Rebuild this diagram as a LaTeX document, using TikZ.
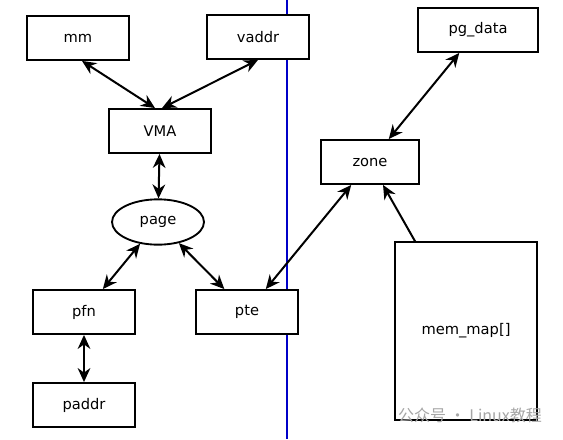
\documentclass[tikz,border=0pt]{standalone}
\usepackage{fontspec}
\setmainfont{DejaVu Sans}
\newfontfamily\cjkfont{Noto Sans CJK SC}
\usepackage{tikz}
\usetikzlibrary{arrows.meta}
\usetikzlibrary{shapes.geometric}

\begin{document}
\begin{tikzpicture}[x=0.75pt, y=-0.75pt,
        box/.style={draw, line width=1.4pt, fill=white, inner sep=0pt, minimum width=77pt, minimum height=33pt, font=\fontsize{11}{13}\selectfont},
        link/.style={{Stealth[length=10.5pt,width=9.5pt]}-{Stealth[length=10.5pt,width=9.5pt]}, line width=1.5pt},
        onelink/.style={-{Stealth[length=10.5pt,width=9.5pt]}, line width=1.5pt}]
        \useasboundingbox (0,0) rectangle (563,439);
        \draw[color={rgb,255:red,0;green,0;blue,200}, line width=0.8pt] (287,0) -- (287,439);

        \node[box](mm) at (78,38) {mm};
        \node[box](vaddr) at (258,37) {vaddr};
        \node[box](vma) at (160,131) {VMA};
        \node[draw, ellipse, line width=1.4pt, fill=white, inner sep=0pt, minimum width=69pt, minimum height=34pt, font=\fontsize{11}{13}\selectfont](page) at (158,222) {page};
        \node[box](pfn) at (84,312) {pfn};
        \node[box](pte) at (247,312) {pte};
        \node[box](paddr) at (84,405) {paddr};

        \node[box, minimum width=90pt](pgdata) at (478,30) {pg\_data};
        \node[box, minimum width=73pt](zone) at (370,162) {zone};
        \node[box, minimum width=106pt, minimum height=133pt](memmap) at (466,331) {mem\_map[]};

        \node[text=black!35, font=\cjkfont\fontsize{12}{14}\selectfont](mark) at (470,415) {公众号 · Linux教程};

        \draw[link] ([xshift=3pt]mm.south) -- ([xshift=-3.75pt]vma.north);
        \draw[link] (vaddr.south) -- ([xshift=1.5pt]vma.north);
        \draw[link] (vma) -- (page);
        \draw[link] (page) -- (pfn);
        \draw[link] (page) -- (pte);
        \draw[link] (pfn) -- (paddr);
        \draw[link] (pte) -- (zone);
        \draw[link] (zone) -- (pgdata);
        \draw[onelink] (memmap) -- (zone);
\end{tikzpicture}
\end{document}
